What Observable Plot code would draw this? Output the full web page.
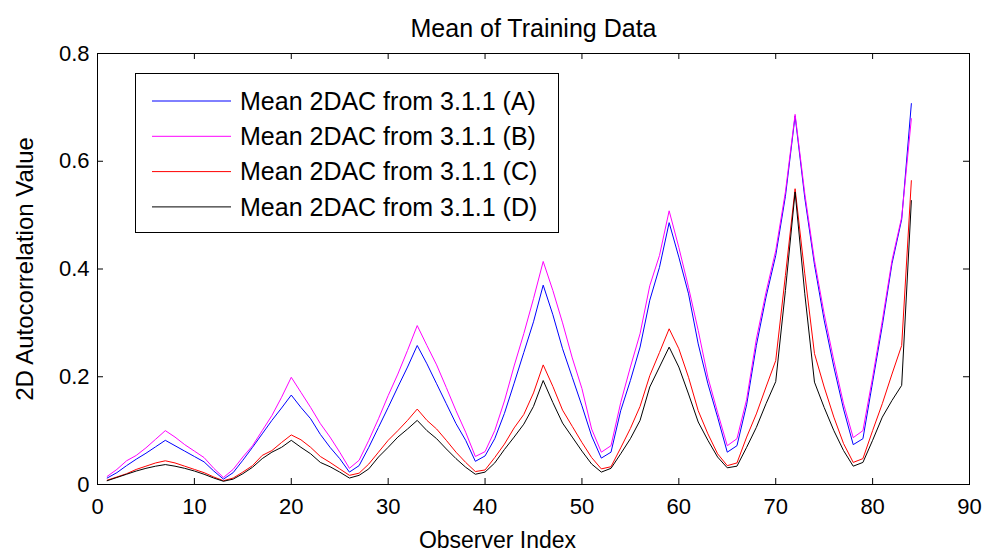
<!DOCTYPE html>
<html>
<head>
<meta charset="utf-8">
<script src="https://cdn.jsdelivr.net/npm/d3@7"></script>
<script src="https://cdn.jsdelivr.net/npm/@observablehq/plot@0.6"></script>
<style>
  body { margin: 0; background: #fff; }
  #chart { width: 985px; height: 554px; }
</style>
</head>
<body>
<div id="chart"></div>
<script>
const observerIndex = [1,2,3,4,5,6,7,8,9,10,11,12,13,14,15,16,17,18,19,20,21,22,23,24,25,26,27,28,29,30,31,32,33,34,35,36,37,38,39,40,41,42,43,44,45,46,47,48,49,50,51,52,53,54,55,56,57,58,59,60,61,62,63,64,65,66,67,68,69,70,71,72,73,74,75,76,77,78,79,80,81,82,83,84];

const seriesA = [0.012,0.022,0.035,0.047,0.058,0.070,0.082,0.072,0.062,0.052,0.042,0.025,0.010,
  0.022,0.045,0.069,0.094,0.119,0.142,0.166,0.143,0.122,0.093,0.069,0.048,0.023,
  0.035,0.069,0.106,0.143,0.181,0.218,0.258,0.224,0.187,0.150,0.113,0.082,0.043,
  0.053,0.085,0.132,0.188,0.245,0.302,0.370,0.315,0.252,0.199,0.146,0.090,0.049,
  0.060,0.137,0.193,0.255,0.342,0.403,0.486,0.422,0.354,0.261,0.187,0.125,0.060,
  0.072,0.148,0.258,0.348,0.425,0.535,0.684,0.532,0.408,0.305,0.218,0.140,0.074,
  0.085,0.190,0.295,0.410,0.492,0.707];

const seriesB = [0.015,0.028,0.044,0.054,0.068,0.084,0.100,0.088,0.074,0.062,0.050,0.030,0.013,
  0.028,0.051,0.072,0.100,0.128,0.162,0.199,0.171,0.143,0.113,0.088,0.060,0.030,
  0.045,0.082,0.122,0.165,0.205,0.249,0.295,0.258,0.222,0.180,0.137,0.097,0.052,
  0.061,0.100,0.155,0.220,0.280,0.345,0.414,0.360,0.300,0.235,0.178,0.103,0.060,
  0.072,0.152,0.218,0.280,0.369,0.425,0.508,0.440,0.366,0.286,0.199,0.134,0.072,
  0.085,0.158,0.270,0.357,0.434,0.543,0.687,0.540,0.416,0.317,0.230,0.150,0.087,
  0.100,0.199,0.304,0.416,0.496,0.679];

const seriesC = [0.008,0.014,0.020,0.028,0.034,0.040,0.044,0.040,0.034,0.028,0.022,0.014,0.007,
  0.012,0.023,0.035,0.054,0.063,0.078,0.092,0.083,0.069,0.052,0.041,0.029,0.017,
  0.021,0.038,0.060,0.082,0.100,0.119,0.140,0.119,0.103,0.082,0.060,0.041,0.024,
  0.027,0.050,0.075,0.105,0.130,0.170,0.222,0.182,0.138,0.108,0.078,0.050,0.029,
  0.033,0.068,0.104,0.145,0.202,0.245,0.289,0.252,0.199,0.137,0.094,0.057,0.035,
  0.040,0.088,0.131,0.181,0.230,0.388,0.549,0.391,0.243,0.181,0.125,0.076,0.041,
  0.048,0.100,0.150,0.205,0.258,0.564];

const seriesD = [0.007,0.013,0.019,0.025,0.030,0.034,0.037,0.034,0.030,0.025,0.019,0.012,0.006,
  0.010,0.020,0.032,0.048,0.060,0.069,0.082,0.069,0.057,0.041,0.033,0.023,0.012,
  0.017,0.029,0.051,0.069,0.088,0.103,0.119,0.100,0.085,0.066,0.048,0.032,0.019,
  0.023,0.040,0.065,0.088,0.112,0.145,0.193,0.152,0.114,0.088,0.062,0.038,0.023,
  0.030,0.057,0.085,0.119,0.181,0.218,0.255,0.218,0.168,0.116,0.082,0.051,0.031,
  0.034,0.069,0.106,0.150,0.191,0.360,0.543,0.354,0.190,0.143,0.100,0.063,0.034,
  0.041,0.082,0.125,0.156,0.184,0.527];

const seriesNames = ["Mean 2DAC from 3.1.1 (A)", "Mean 2DAC from 3.1.1 (B)", "Mean 2DAC from 3.1.1 (C)", "Mean 2DAC from 3.1.1 (D)"];
const seriesColors = ["#0000ff", "#ff00ff", "#ff0000", "#000000"];

const xTicks = [0,10,20,30,40,50,60,70,80,90];
const xTickLabels = ["0","10","20","30","40","50","60","70","80","90"];
const yTicks = [0,0.2,0.4,0.6,0.8];
const yTickLabels = ["0","0.2","0.4","0.6","0.8"];

const titleText = "Mean of Training Data";
const xLabelText = "Observer Index";
const yLabelText = "2D Autocorrelation Value";

const W = 985, H = 554;
const mL = 97, mR = 16, mT = 53, mB = 70;
const frameW = W - mL - mR, frameH = H - mT - mB;
const FONT = "'Liberation Sans', Arial, Helvetica, sans-serif";
const tickLen = 6;

const allSeries = [seriesA, seriesB, seriesC, seriesD];
const lineMarks = allSeries.map((s, k) =>
  Plot.line(observerIndex.map((x, i) => ({x, y: s[i]})), {
    x: "x", y: "y", stroke: seriesColors[k], strokeWidth: 1
  })
);

const plot = Plot.plot({
  width: W, height: H,
  marginLeft: mL, marginRight: mR, marginTop: mT, marginBottom: mB,
  x: {domain: [0, 90]},
  y: {domain: [0, 0.8]},
  style: {fontFamily: FONT, fontSize: "22px", background: "#fff", color: "#000"},
  marks: [
    Plot.axisX(xTicks, {tickSize: 0, tickPadding: 14, label: null, fontSize: 22,
      tickFormat: d => xTickLabels[xTicks.indexOf(d)]}),
    Plot.axisY(yTicks, {tickSize: 0, tickPadding: 8, label: null, fontSize: 22,
      tickFormat: d => yTickLabels[yTicks.indexOf(d)]}),
    ...lineMarks,
    Plot.tickX(xTicks, {x: d => d, insetTop: frameH - tickLen, stroke: "#000"}),
    Plot.tickX(xTicks, {x: d => d, insetBottom: frameH - tickLen, stroke: "#000"}),
    Plot.tickY(yTicks, {y: d => d, insetRight: frameW - tickLen, stroke: "#000"}),
    Plot.tickY(yTicks, {y: d => d, insetLeft: frameW - tickLen, stroke: "#000"}),
    Plot.frame({stroke: "#000", strokeWidth: 1}),
    Plot.text([titleText], {text: d => d, frameAnchor: "top", lineAnchor: "middle", dy: -25, fontSize: 25, fill: "#000"}),
    Plot.text([xLabelText], {text: d => d, frameAnchor: "bottom", lineAnchor: "middle", textAnchor: "middle", dx: -36, dy: 56, fontSize: 23, fill: "#000"}),
    Plot.text([yLabelText], {text: d => d, frameAnchor: "left", lineAnchor: "middle", textAnchor: "middle", dx: -72, rotate: -90, fontSize: 24, fill: "#000"})
  ]
});

// Legend inside the axes (upper left)
const svg = d3.select(plot);
const lg = svg.append("g").attr("font-family", FONT).attr("font-size", 25).attr("text-anchor", "start");
const lx = 135, ly = 73, lw = 423, lh = 159, rowH = 35.3, row0 = 101;
lg.append("rect").attr("x", lx + 0.5).attr("y", ly + 0.5).attr("width", lw).attr("height", lh)
  .attr("fill", "#fff").attr("stroke", "#000").attr("stroke-width", 1);
seriesNames.forEach((name, k) => {
  const yy = row0 + k * rowH;
  lg.append("line").attr("x1", 152).attr("x2", 231).attr("y1", yy).attr("y2", yy)
    .attr("stroke", seriesColors[k]).attr("stroke-width", 1);
  lg.append("text").attr("x", 240).attr("y", yy).attr("dy", "0.35em")
    .attr("text-anchor", "start").attr("fill", "#000").text(name);
});

document.getElementById("chart").appendChild(plot);
</script>
</body>
</html>
